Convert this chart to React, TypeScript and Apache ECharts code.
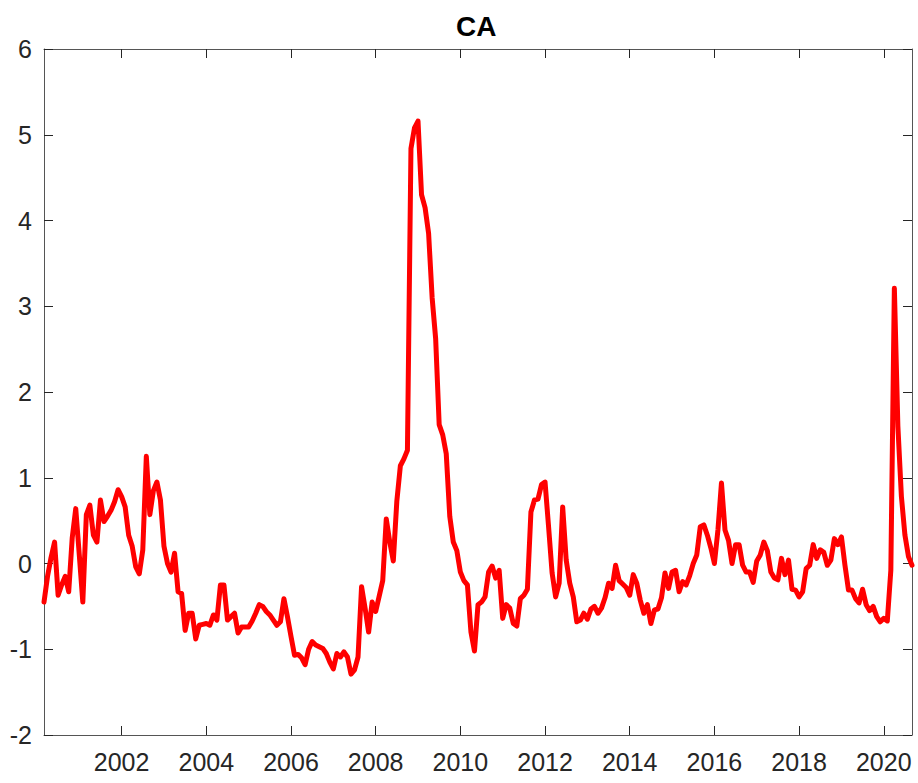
import React, { useEffect, useRef } from "react";
import * as echarts from "echarts";

// Monthly series, first observation end of Feb 2000, last end of Aug 2020
const startYear = 2000;
const startMonth = 2; // February
const caValues: number[] = [
  -0.45, -0.15, 0.07, 0.25, -0.37, -0.25, -0.15, -0.33, 0.3, 0.64,
  0.1, -0.45, 0.57, 0.68, 0.33, 0.25, 0.74, 0.49, 0.55, 0.62,
  0.72, 0.86, 0.78, 0.66, 0.33, 0.2, -0.04, -0.12, 0.16, 1.25,
  0.57, 0.85, 0.95, 0.74, 0.2, 0.0, -0.1, 0.12, -0.33, -0.35,
  -0.78, -0.58, -0.58, -0.88, -0.72, -0.71, -0.7, -0.72, -0.6, -0.66,
  -0.25, -0.25, -0.66, -0.62, -0.58, -0.81, -0.74, -0.74, -0.74, -0.67,
  -0.58, -0.48, -0.5, -0.56, -0.6, -0.66, -0.72, -0.68, -0.41, -0.62,
  -0.85, -1.07, -1.06, -1.1, -1.18, -1.0, -0.91, -0.95, -0.97, -0.99,
  -1.05, -1.15, -1.23, -1.05, -1.09, -1.03, -1.09, -1.29, -1.24, -1.09,
  -0.27, -0.52, -0.8, -0.45, -0.56, -0.38, -0.2, 0.52, 0.25, 0.03,
  0.73, 1.14, 1.22, 1.32, 4.84, 5.08, 5.16, 4.3, 4.15, 3.85,
  3.1, 2.62, 1.62, 1.5, 1.28, 0.55, 0.25, 0.15, -0.1, -0.2,
  -0.25, -0.8, -1.02, -0.48, -0.45, -0.39, -0.1, -0.03, -0.17, -0.08,
  -0.64, -0.48, -0.52, -0.7, -0.73, -0.41, -0.37, -0.3, 0.6, 0.74,
  0.75, 0.92, 0.95, 0.43, -0.11, -0.39, -0.23, 0.66, 0.04, -0.23,
  -0.39, -0.68, -0.66, -0.58, -0.65, -0.53, -0.5, -0.58, -0.52, -0.4,
  -0.23, -0.29, -0.02, -0.2, -0.24, -0.28, -0.37, -0.13, -0.23, -0.43,
  -0.58, -0.48, -0.7, -0.54, -0.53, -0.4, -0.11, -0.29, -0.1, -0.08,
  -0.33, -0.21, -0.25, -0.14, 0.0, 0.1, 0.43, 0.45, 0.33, 0.18,
  0.0, 0.39, 0.94, 0.39, 0.27, 0.0, 0.22, 0.22, -0.02, -0.1,
  -0.1, -0.22, 0.03, 0.1, 0.25, 0.15, -0.1, -0.17, -0.19, 0.06,
  -0.13, 0.04, -0.3, -0.31, -0.39, -0.33, -0.06, -0.02, 0.22, 0.06,
  0.16, 0.13, -0.02, 0.04, 0.29, 0.22, 0.31, -0.02, -0.31, -0.31,
  -0.41, -0.46, -0.3, -0.48, -0.55, -0.5, -0.62, -0.68, -0.64, -0.67,
  -0.08, 3.21, 1.6, 0.78, 0.33, 0.08, -0.02,
];
const xTickYears: number[] = [2002, 2004, 2006, 2008, 2010, 2012, 2014, 2016, 2018, 2020];
const yTicks: number[] = [-2, -1, 0, 1, 2, 3, 4, 5, 6];
const title = "CA";

export default function App() {
  const ref = useRef<HTMLDivElement>(null);
  useEffect(() => {
    if (!ref.current) return;
    const chart = echarts.init(ref.current, undefined, { renderer: "svg" });
    // month-end positions in decimal years
    const points = caValues.map((v, i) => [startYear + (startMonth + i) / 12, v]);
    const xMin = startYear + startMonth / 12;
    const xMax = startYear + (startMonth + caValues.length - 1) / 12;
    const axisColor = "#555555";
    const labelStyle = {
      color: "#262626",
      fontFamily: "'Liberation Sans', Arial, Helvetica, sans-serif",
      fontSize: 25,
    };
    const xCommon = {
      type: "value" as const,
      min: xMin,
      max: xMax,
      splitLine: { show: false },
      axisLine: { show: true, onZero: false, lineStyle: { color: axisColor, width: 1 } },
      axisTick: {
        show: true,
        inside: true,
        length: 9,
        customValues: xTickYears,
        lineStyle: { color: "#262626", width: 1 },
      },
    };
    const yCommon = {
      type: "value" as const,
      min: yTicks[0],
      max: yTicks[yTicks.length - 1],
      interval: 1,
      splitLine: { show: false },
      axisLine: { show: true, onZero: false, lineStyle: { color: axisColor, width: 1 } },
      axisTick: { show: true, inside: true, length: 9, lineStyle: { color: "#262626", width: 1 } },
    };
    chart.setOption({
      animation: false,
      backgroundColor: "#ffffff",
      title: {
        text: title,
        left: 456,
        top: 12,
        padding: 0,
        textStyle: {
          fontFamily: "'Liberation Sans', Arial, Helvetica, sans-serif",
          fontWeight: "bold",
          fontSize: 28,
          color: "#000000",
        },
      },
      grid: { left: 44, right: 6, top: 49, bottom: 48, containLabel: false },
      xAxis: [
        {
          ...xCommon,
          position: "bottom",
          axisLabel: {
            ...labelStyle,
            margin: 14,
            customValues: xTickYears,
            formatter: (v: number) => String(Math.round(v)),
          },
        },
        {
          ...xCommon,
          position: "top",
          axisLabel: { show: false },
        },
      ],
      yAxis: [
        {
          ...yCommon,
          position: "left",
          axisLabel: { ...labelStyle, margin: 12 },
        },
        {
          ...yCommon,
          position: "right",
          axisLabel: { show: false },
        },
      ],
      series: [
        {
          type: "line",
          data: points,
          xAxisIndex: 0,
          yAxisIndex: 0,
          showSymbol: false,
          symbol: "none",
          lineStyle: { color: "#ff0000", width: 5, cap: "round", join: "round" },
          emphasis: { disabled: true },
        },
      ],
    });
    return () => chart.dispose();
  }, []);
  return (
    <div
      ref={ref}
      style={{ position: "absolute", left: 0, top: 0, width: 918, height: 783, background: "#fff" }}
    />
  );
}
